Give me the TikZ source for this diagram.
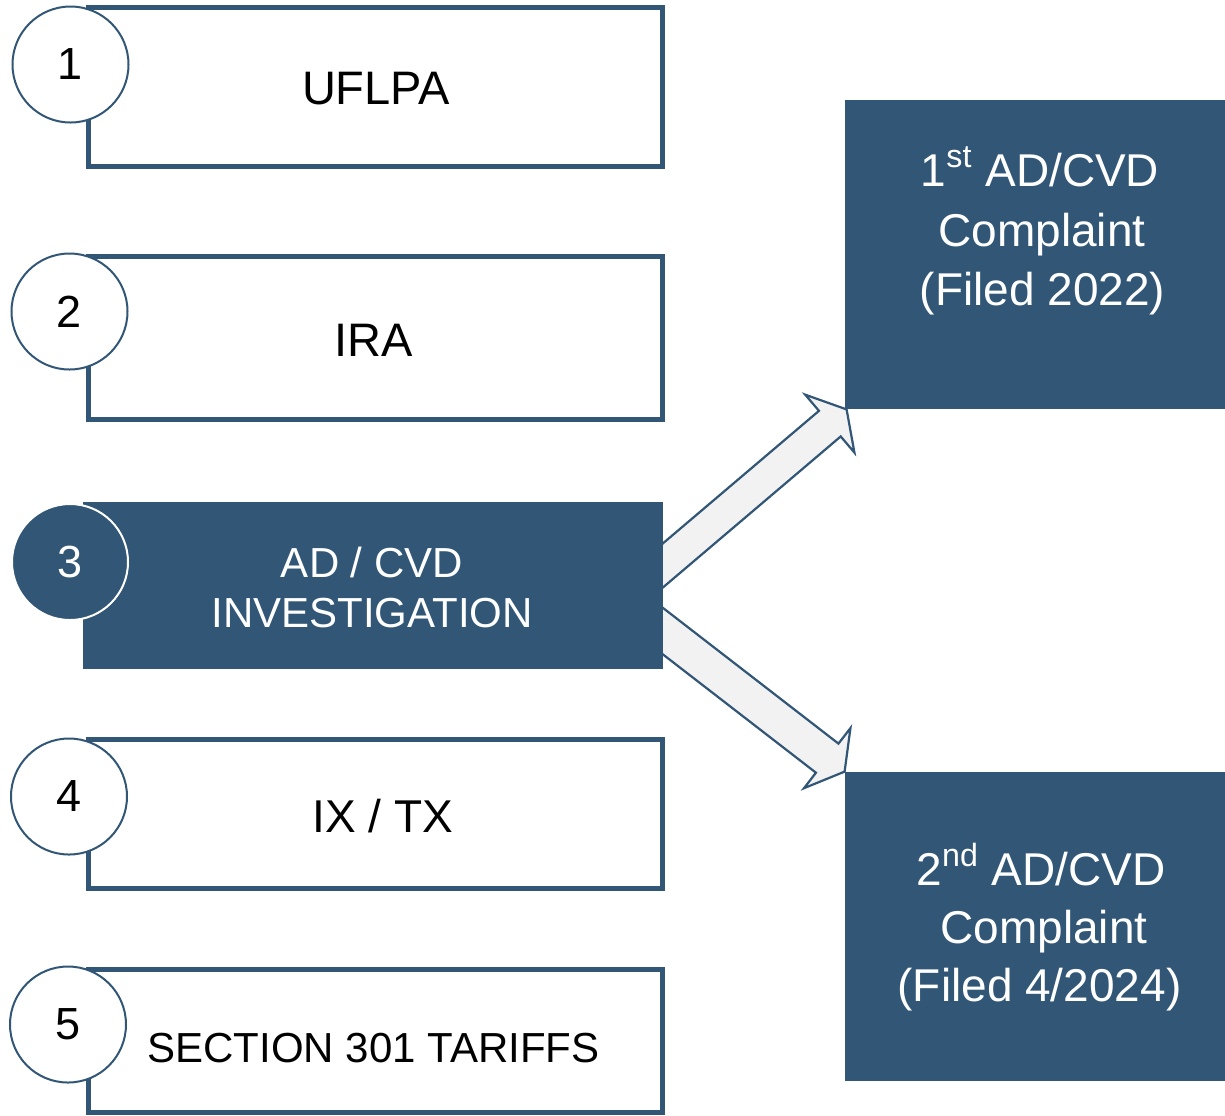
\documentclass[tikz,border=0pt]{standalone}
\usepackage{fontspec}
\setmainfont{Liberation Sans}
\usetikzlibrary{calc,backgrounds}
\definecolor{navy}{RGB}{49,86,118}
\definecolor{arrowfill}{RGB}{242,242,242}
\begin{document}
\begin{tikzpicture}[x=0.5pt,y=-0.5pt,
  wbox/.style={draw=navy,line width=2.5pt,fill=white,inner sep=0pt,minimum width=287pt},
  fbox/.style={fill=navy,inner sep=0pt},
  numfont/.style={font=\fontsize{22.5}{27}\selectfont},
  wcirc/.style={circle,draw=navy,line width=1pt,fill=white,minimum size=58pt,inner sep=0pt,numfont},
  fcirc/.style={circle,draw=white,line width=1pt,fill=navy,text=white,minimum size=58pt,inner sep=0pt,numfont},
  lbl/.style={anchor=base,inner sep=0pt},
  bigtxt/.style={font=\fontsize{23.5}{28}\selectfont},
  midtxt/.style={font=\fontsize{21}{25}\selectfont},
  rtxt/.style={font=\fontsize{23}{28}\selectfont,text=white},
  arr/.style={draw=navy,line width=1.1pt,fill=arrowfill,line join=miter}
]
\useasboundingbox (0,0) rectangle (1225,1115);

% left boxes
\node[wbox,minimum height=79.5pt]  (b1) at (375,86.5) {};
\node[wbox,minimum height=81.25pt] (b2) at (375,337.75) {};
\node[fbox,minimum width=290pt,minimum height=83.5pt] (b3) at (373,585.5) {};
\node[wbox,minimum height=74.5pt]  (b4) at (375,813.5) {};
\node[wbox,minimum height=71.5pt]  (b5) at (375,1040.5) {};

% right boxes
\node[fbox,minimum width=190pt,minimum height=154.5pt] (bA) at (1035,254.5) {};
\node[fbox,minimum width=190pt,minimum height=154.5pt] (bB) at (1035,926.5) {};

% circles
\node[wcirc] (c1) at (70.5,64.5) {1};
\node[wcirc] (c2) at (69.5,311.5) {2};
\node[fcirc] (c3) at (70,562) {3};
\node[wcirc] (c4) at (69,796.5) {4};
\node[wcirc] (c5) at (68,1024.5) {5};

% box texts
\node[lbl,bigtxt] (t1) at (376,104) {UFLPA};
\node[lbl,bigtxt] (t2) at (374,356) {IRA};
\node[lbl,midtxt,text=white] (t3a) at (372,577) {AD / CVD};
\node[lbl,midtxt,text=white] (t3b) at (372,627) {INVESTIGATION};
\node[lbl,font=\fontsize{23}{28}\selectfont] (t4) at (382.5,832) {IX / TX};
\node[lbl,midtxt] (t5) at (373.5,1062) {SECTION 301 TARIFFS};

\node[lbl,rtxt] (tAa) at (1040,186) {1\textsuperscript{st} AD/CVD};
\node[lbl,rtxt] (tAb) at (1042,246) {Complaint};
\node[lbl,rtxt] (tAc) at (1042.5,305.5) {(Filed 2022)};
\node[lbl,rtxt] (tBa) at (1041,885) {2\textsuperscript{nd} AD/CVD};
\node[lbl,rtxt] (tBb) at (1044,943.3) {Complaint};
\node[lbl,rtxt] (tBc) at (1039.5,1001.7) {(Filed 4/2024)};

% block arrows (start hidden behind box 3)
\coordinate (m1) at ($(b3.east)+(0,-20.5)$);
\coordinate (e1) at ($(bA.south west)+(2,0)$);
\coordinate (m2) at ($(b3.east)+(0,46)$);
\coordinate (e2) at (bB.north west);
\coordinate (s1) at ($(m1)!-20pt!(e1)$);
\coordinate (s2) at ($(m2)!-20pt!(e2)$);
\coordinate (h1) at ($(e1)!11pt!(s1)$);
\coordinate (h2) at ($(e2)!11pt!(s2)$);
\begin{scope}[on background layer]
\draw[arr] ($(s1)!8.4pt!90:(e1)$) -- ($(h1)!8.4pt!90:(e1)$) -- ($(h1)!19pt!90:(e1)$) -- (e1)
  -- ($(h1)!19pt!-90:(e1)$) -- ($(h1)!8.4pt!-90:(e1)$) -- ($(s1)!8.4pt!-90:(e1)$) -- cycle;
\draw[arr] ($(s2)!9.2pt!90:(e2)$) -- ($(h2)!9.2pt!90:(e2)$) -- ($(h2)!19pt!90:(e2)$) -- (e2)
  -- ($(h2)!19pt!-90:(e2)$) -- ($(h2)!9.2pt!-90:(e2)$) -- ($(s2)!9.2pt!-90:(e2)$) -- cycle;
\end{scope}
\end{tikzpicture}
\end{document}
